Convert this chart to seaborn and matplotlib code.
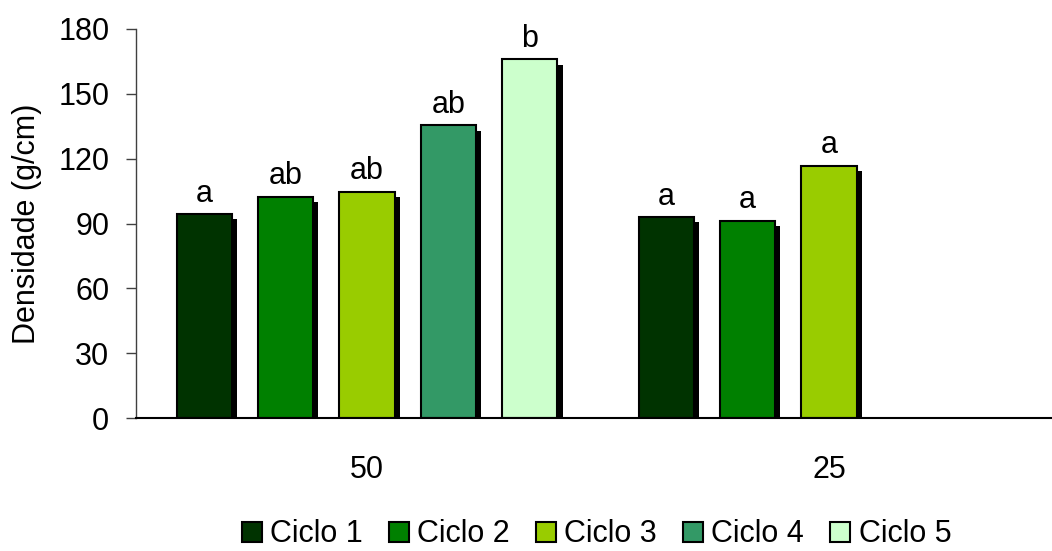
"""Densidade por ciclo e espaçamento, barras com sombra."""

import numpy as np
import pandas as pd
import seaborn as sns
import matplotlib.pyplot as plt
import matplotlib.patheffects as pe
from matplotlib.patches import Patch

categories = ["50", "25"]
cycles = ["Ciclo 1", "Ciclo 2", "Ciclo 3", "Ciclo 4", "Ciclo 5"]
vals_50 = [94.3, 102.3, 104.6, 135.4, 166.0]
vals_25 = [93.0, 91.3, 116.8, np.nan, np.nan]
letters_50 = ["a", "ab", "ab", "ab", "b"]
letters_25 = ["a", "a", "a", "", ""]
colors = ["#003300", "#008000", "#99CC00", "#339966", "#CCFFCC"]

rows = []
for cat, vals, lets in [("50", vals_50, letters_50), ("25", vals_25, letters_25)]:
    for cyc, v, l in zip(cycles, vals, lets):
        rows.append({"grupo": cat, "ciclo": cyc, "densidade": v, "letra": l})
df = pd.DataFrame(rows)
palette = dict(zip(cycles, colors))

sns.set_style("white")
plt.rcParams["font.family"] = ["Liberation Sans", "DejaVu Sans"]
plt.rcParams["font.size"] = 22
plt.rcParams["text.color"] = "black"
plt.rcParams["axes.labelcolor"] = "black"
plt.rcParams["xtick.labelcolor"] = "black"
plt.rcParams["ytick.labelcolor"] = "black"

fig = plt.figure(figsize=(10.52, 5.51), dpi=100)
ax = fig.add_axes([136 / 1052, 133 / 551, 924 / 1052, 389 / 551])

sns.barplot(
    data=df.dropna(subset=["densidade"]), x="grupo", y="densidade",
    hue="ciclo", order=categories, hue_order=cycles, palette=palette,
    errorbar=None, width=0.882, gap=0.325, edgecolor="black",
    linewidth=1.5, legend=False, ax=ax, saturation=1,
)

shadow = [pe.SimplePatchShadow(offset=(3.8, -3.8), shadow_rgbFace="black", alpha=1),
          pe.Normal()]
lookup = {(r.grupo, r.ciclo): r.letra for r in df.itertuples()}
for cyc, cont in zip(cycles, ax.containers):
    for bar in cont:
        h = bar.get_height()
        if not np.isfinite(h) or h == 0:
            continue
        bar.set_path_effects(shadow)
        xc = bar.get_x() + bar.get_width() / 2
        cat = categories[int(round(xc))]
        ax.annotate(lookup[(cat, cyc)], (xc, h), xytext=(0, 9),
                    textcoords="offset points", ha="center", va="baseline",
                    fontsize=22, color="black")

ax.set_ylim(0, 180)
ax.set_yticks(np.arange(0, 181, 30))
ax.set_xlim(-0.5, 1.5)
ax.set_xticks([-0.5, 0.5, 1.5], minor=True)
ax.tick_params(axis="x", which="major", length=0, pad=27)
ax.tick_params(axis="x", which="minor", length=7.2, width=1.2, color="#808080",
               direction="out")
ax.tick_params(axis="y", length=7.2, width=1, color="#404040", direction="out",
               left=True, pad=12)
ax.set_xlabel("")
ax.set_ylabel("Densidade (g/cm)", fontsize=22)
ax.yaxis.set_label_coords(-0.102, 0.5)

for s in ["top", "right"]:
    ax.spines[s].set_visible(False)
ax.spines["left"].set_color("#404040")
ax.spines["left"].set_linewidth(1)
ax.spines["bottom"].set_color("black")
ax.spines["bottom"].set_linewidth(1.5)

handles = [Patch(facecolor=c, edgecolor="black", linewidth=1.5) for c in colors]
fig.legend(handles, cycles, loc="center", bbox_to_anchor=(0.567, 0.03), ncol=5,
           frameon=False, handlelength=0.65, handleheight=0.65,
           handletextpad=0.28, columnspacing=0.85, fontsize=22,
           borderpad=0.1)

fig.savefig("out.png", dpi=100)
